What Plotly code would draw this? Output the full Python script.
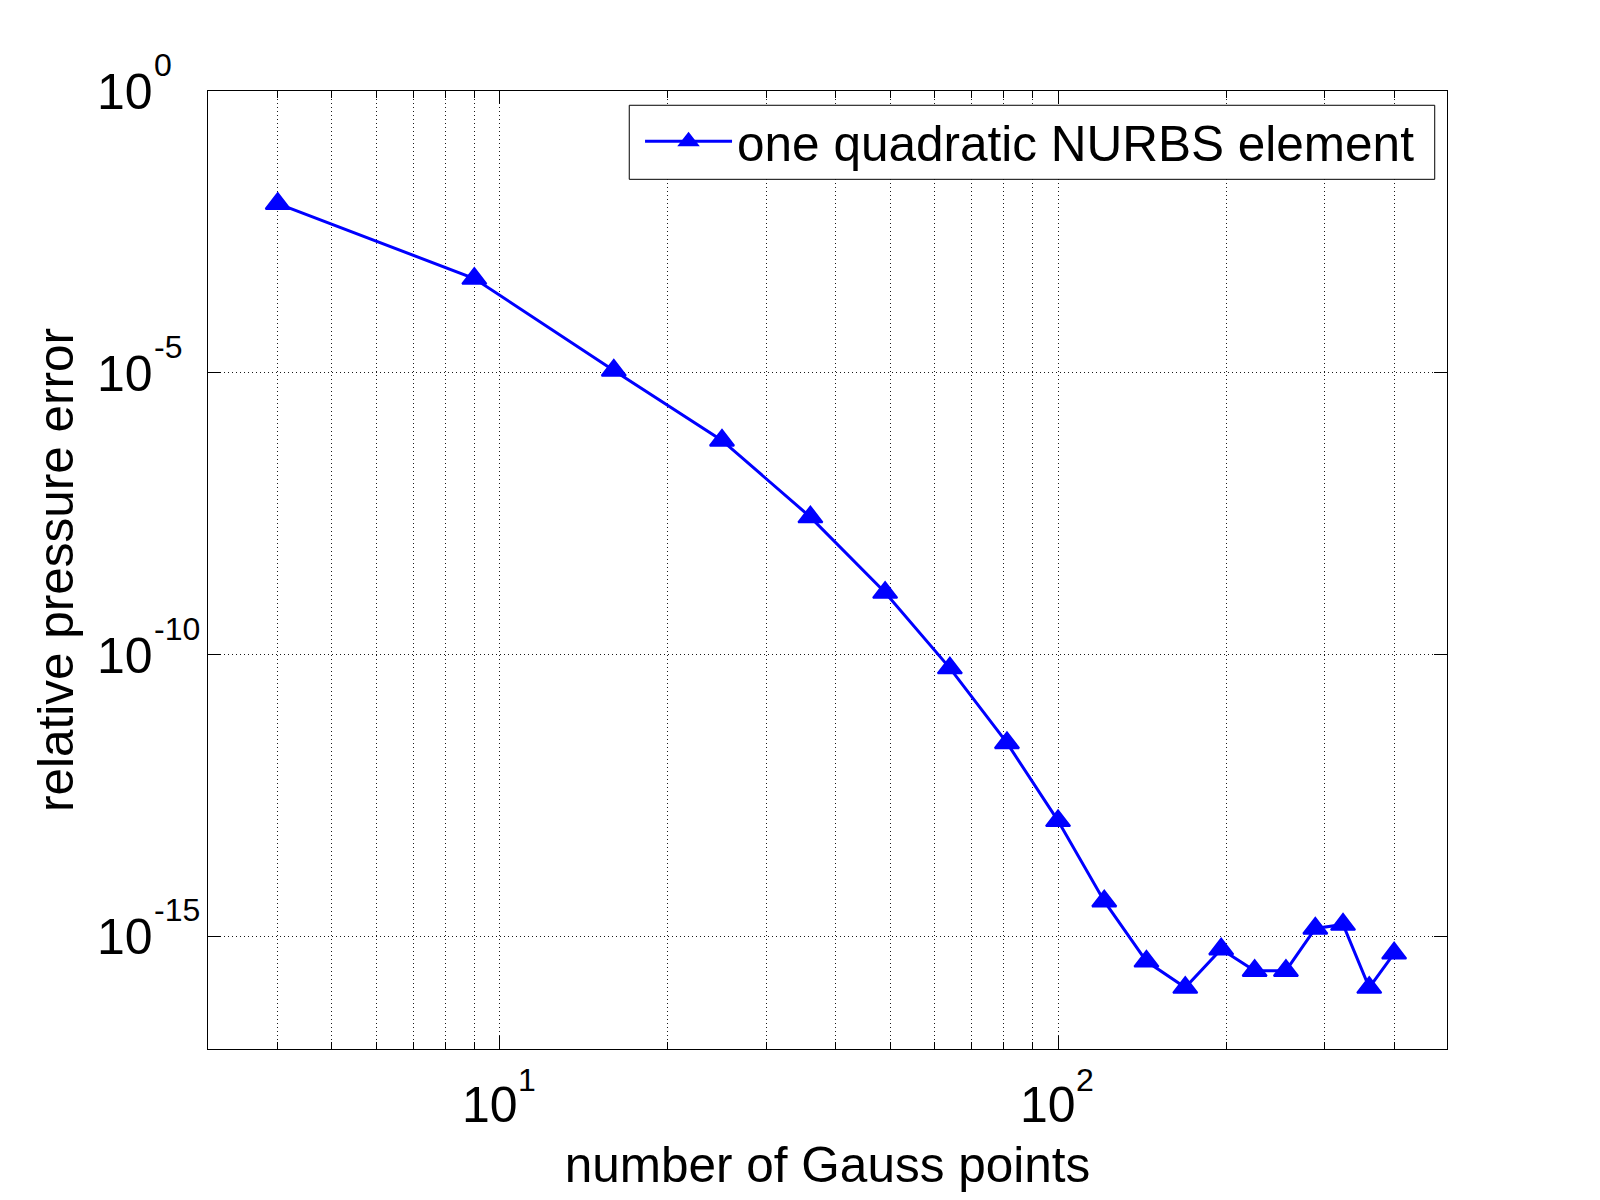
import numpy as np
import plotly.graph_objects as go

# number of Gauss points (n^2, n = 2..20)
gauss_points = [4, 9, 16, 25, 36, 49, 64, 81, 100, 121, 144, 169, 196, 225, 256, 289, 324, 361, 400]
# relative pressure error
rel_error = [1.0e-2, 4.7e-4, 1.1e-5, 6.3e-7, 2.75e-8, 1.26e-9, 5.75e-11, 2.7e-12, 1.12e-13,
             4.2e-15, 3.6e-16, 1.23e-16, 5.9e-16, 2.45e-16, 2.45e-16, 1.38e-15, 1.62e-15,
             1.23e-16, 5.0e-16]

series_name = "one quadratic NURBS element"
x_decades = [1, 2]            # 10^1, 10^2
x_minor = [4, 5, 6, 7, 8, 9, 20, 30, 40, 50, 60, 70, 80, 90, 200, 300, 400]
y_decades = [0, -5, -10, -15]

FONT = "Liberation Sans, Arial, Helvetica, sans-serif"
BLUE = "#0000ff"
BASE_SIZE = 50
TITLE_SIZE = 49.5
EXP_SIZE = 32
GRID = dict(showgrid=True, gridcolor="#1a1a1a", gridwidth=1, griddash="1px,3px")

# the page body adds 8px around the figure, so the figure is 16px smaller than the window
W, H = 1584, 1184
fig = go.Figure()
fig.add_scatter(
    x=gauss_points,
    y=rel_error,
    mode="lines+markers",
    name=series_name,
    line={"color": BLUE, "width": 3},
    marker={"symbol": "triangle-up", "size": 21, "color": BLUE,
            "line": {"color": BLUE, "width": 2}},
)

fig.update_layout(
    width=W,
    height=H,
    paper_bgcolor="white",
    plot_bgcolor="white",
    margin={"l": 200, "r": 145, "t": 83, "b": 143, "pad": 0, "autoexpand": False},
    font={"family": FONT, "size": BASE_SIZE, "color": "black"},
    showlegend=True,
    legend={
        "x": 0.3487, "y": 0.9471, "xanchor": "left", "yanchor": "middle",
        "bgcolor": "rgba(0,0,0,0)", "borderwidth": 0,
        "font": {"size": TITLE_SIZE}, "itemwidth": 87,
    },
)

# legend frame (white box with black border)
fig.add_shape(
    type="rect", xref="paper", yref="paper",
    x0=0.3400, x1=0.9901, y0=0.9078, y1=0.9851,
    line={"color": "black", "width": 1}, fillcolor="white", layer="above",
)

fig.update_xaxes(
    type="log",
    range=[np.log10(3), 2.6968],
    tickmode="array", tickvals=[10 ** d for d in x_decades],
    showticklabels=False,
    ticks="inside", ticklen=13, tickcolor="black",
    showline=True, linecolor="black", linewidth=1, mirror="allticks",
    zeroline=False, automargin=False,
    title={"text": "number of Gauss points", "standoff": 99, "font": {"size": TITLE_SIZE}},
    minor={"tickmode": "array", "tickvals": x_minor, "ticks": "inside", "ticklen": 7,
           "tickcolor": "black", **GRID},
    **GRID,
)

fig.update_yaxes(
    type="log",
    range=[-17, 0],
    tickmode="array", tickvals=[10.0 ** e for e in y_decades],
    showticklabels=False,
    ticks="inside", ticklen=13, tickcolor="black",
    showline=True, linecolor="black", linewidth=1, mirror="allticks",
    zeroline=False, automargin=False,
    title={"text": "relative pressure error", "standoff": 117, "font": {"size": TITLE_SIZE}},
    **GRID,
)

# MATLAB-style tick labels: "10" with a raised exponent
for d in x_decades:
    fig.add_annotation(x=d, xref="x", y=0, yref="paper", xanchor="right", yanchor="middle",
                       xshift=20, yshift=-56, text="10", showarrow=False,
                       font={"size": BASE_SIZE})
    fig.add_annotation(x=d, xref="x", y=0, yref="paper", xanchor="left", yanchor="middle",
                       xshift=16, yshift=-31, text=str(d), showarrow=False,
                       font={"size": EXP_SIZE})

for e in y_decades:
    fig.add_annotation(x=0, xref="paper", y=e, yref="y", xanchor="right", yanchor="middle",
                       xshift=-53, yshift=-1, text="10", showarrow=False,
                       font={"size": BASE_SIZE})
    fig.add_annotation(x=0, xref="paper", y=e, yref="y", xanchor="left", yanchor="middle",
                       xshift=-56, yshift=26, text=str(e), showarrow=False,
                       font={"size": EXP_SIZE})

fig.write_html("out.html")
